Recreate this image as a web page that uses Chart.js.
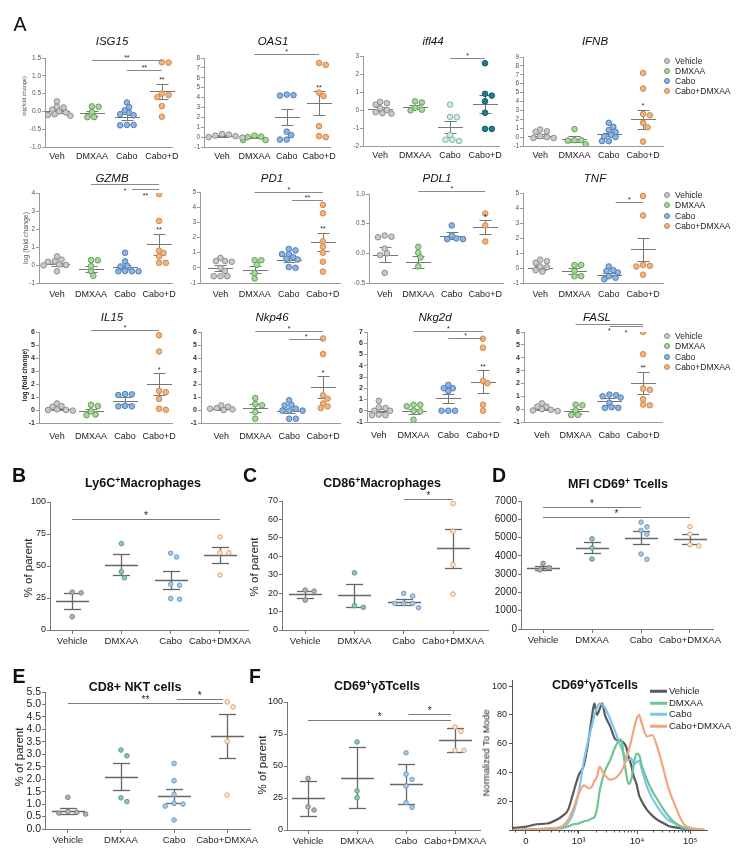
<!DOCTYPE html>
<html>
<head>
<meta charset="utf-8">
<script src="https://cdn.jsdelivr.net/npm/chart.js@4.4.1/dist/chart.umd.min.js"></script>
<style>
  body { margin: 0; width: 744px; height: 862px; background: #fff; position: relative; overflow: hidden;
         font-family: "Liberation Sans", Arial, sans-serif; }
  canvas { position: absolute; }
  .t { position: absolute; white-space: nowrap; line-height: 1; color: #111; z-index: 2;
       transform: translate(-50%, -50%); }
  .l { transform: translate(0, -50%); }
  .sup { font-size: 0.7em; position: relative; top: -0.45em; }
  .dot { position: absolute; width: 4px; height: 4px; border-radius: 50%; border: 1px solid; transform: translate(-50%, -50%); z-index: 2; }
  .seg { position: absolute; width: 17px; height: 2px; transform: translate(0, -50%); z-index: 2; }
</style>
</head>
<body>
<script>
const FF = '"Liberation Sans", Arial, sans-serif';
Chart.defaults.font.family = FF;

const groupsShort = ['Veh', 'DMXAA', 'Cabo', 'Cabo+D'];
const groupsLong = ['Vehicle', 'DMXAA', 'Cabo', 'Cabo+DMXAA'];

// ---------- A: qPCR, log(fold change) ----------
const isg15Vals = [[0.28, 0.13, 0.11, 0.05, 0.0, -0.03, -0.08, -0.1, -0.12], [0.14, 0.13, -0.02, -0.16, -0.16],
                   [0.25, 0.12, 0.03, -0.04, -0.08, -0.11, -0.38, -0.38, -0.39], [1.38, 1.37, 0.5, 0.46, 0.4, 0.15, -0.15]];
const isg15Mean = [0.0, -0.05, -0.15, 0.57];
const isg15Err = [0.05, 0.07, 0.08, 0.21];
const isg15Sig = [[2, 4, 1.45, '**'], [3, 4, 1.17, '**']];
const isg15Top = ['', '', '', '**'];

const oas1Vals = [[0.3, 0.25, 0.15, 0.1, 0.0, -0.05], [0.15, 0.05, 0.0, -0.3, -0.3],
                  [4.3, 4.2, 4.25, 0.55, 0.2, -0.25, -0.25], [7.5, 7.3, 4.5, 4.15, 1.1, 0.1, 0.0]];
const oas1Mean = [0.1, -0.05, 2.05, 3.45];
const oas1Err = [0.08, 0.08, 0.8, 1.2];
const oas1Sig = [[2, 4, 8.4, '*']];
const oas1Top = ['', '', '', '**'];

const ifl44Vals = [[0.45, 0.38, 0.3, 0.1, 0.0, -0.12, -0.18, -0.2], [0.48, 0.42, 0.12, 0.02, -0.02],
                   [0.3, -0.4, -0.38, -1.4, -1.65, -1.72, -1.65], [2.6, 0.9, 0.8, 0.48, -0.15, -1.05, -1.05]];
const ifl44Mean = [0.05, 0.18, -0.95, 0.32];
const ifl44Err = [0.1, 0.1, 0.33, 0.5];
const ifl44Sig = [[3, 4, 2.9, '*']];
const ifl44Top = ['', '', '', ''];

const ifnbVals = [[0.85, 0.65, 0.6, 0.1, 0.0, -0.1, -0.1], [0.9, -0.35, -0.35, -0.4, -0.8],
                  [1.6, 1.15, 0.8, 0.6, 0.25, 0.1, 0.0, -0.45, -0.45], [7.2, 5.45, 2.6, 2.45, 1.6, 1.1, -0.5]];
const ifnbMean = [0.1, -0.2, 0.3, 2.0];
const ifnbErr = [0.25, 0.3, 0.2, 1.1];
const ifnbSig = [];
const ifnbTop = ['', '', '', '*'];

const gzmbVals = [[0.48, 0.3, 0.2, 0.18, 0.03, 0.0, -0.02, -0.35], [0.27, 0.26, -0.07, -0.35, -0.6],
                  [0.68, 0.2, -0.05, -0.08, -0.33, -0.35, -0.35, -0.35], [3.94, 2.45, 0.8, 0.67, 0.48, 0.12, 0.12]];
const gzmbMean = [0.03, -0.22, -0.12, 1.15];
const gzmbErr = [0.1, 0.15, 0.12, 0.6];
const gzmbSig = [[2, 4, 4.5, '*', true], [3.2, 4, 4.22, '**', true]];
const gzmbTop = ['', '', '', '**'];

const pd1Vals = [[0.65, 0.45, 0.4, 0.45, 0.0, -0.2, -0.55, -0.55, -0.55], [0.5, 0.5, 0.2, -0.35, -0.7],
                 [1.25, 1.15, 0.9, 0.9, 0.7, 0.6, 0.55, 0.05, 0.0], [4.15, 3.6, 1.75, 1.4, 1.0, 0.4, -0.25]];
const pd1Mean = [0.0, -0.12, 0.52, 1.7];
const pd1Err = [0.18, 0.25, 0.15, 0.62];
const pd1Sig = [[2, 4, 5.0, '*'], [3.1, 4, 4.45, '**']];
const pd1Top = ['', '', '', '**'];

const pdl1Vals = [[0.3, 0.28, 0.27, 0.08, 0.0, -0.03, -0.33], [0.11, 0.01, -0.07, -0.22],
                  [0.47, 0.3, 0.25, 0.24, 0.24], [0.67, 0.47, 0.2]];
const pdl1Mean = [-0.02, -0.15, 0.3, 0.44];
const pdl1Err = [0.12, 0.1, 0.06, 0.12];
const pdl1Sig = [[2, 4, 1.05, '*']];
const pdl1Top = ['', '', '', '*'];

const tnfVals = [[0.55, 0.45, 0.35, 0.1, 0.05, -0.15, -0.25], [0.2, 0.2, -0.2, -0.55, -0.55],
                 [0.1, -0.2, -0.3, -0.15, -0.55, -0.65, -0.75], [4.8, 3.5, 0.2, 0.1, 0.15, -0.45]];
const tnfMean = [0.0, -0.2, -0.45, 1.25];
const tnfErr = [0.12, 0.18, 0.1, 0.75];
const tnfSig = [[3.2, 4, 4.4, '*']];
const tnfTop = ['', '', '', ''];

const il15Vals = [[0.5, 0.3, 0.25, 0.05, 0.0, -0.05, 0.0], [0.4, 0.3, -0.1, -0.35, -0.4],
                  [1.2, 1.15, 1.22, 0.28, 0.28, 0.32], [5.75, 4.5, 1.47, 1.37, 0.85, 0.02, 0.1]];
const il15Mean = [0.05, -0.1, 0.72, 2.0];
const il15Err = [0.08, 0.15, 0.28, 0.82];
const il15Sig = [[2, 4, 6.13, '*']];
const il15Top = ['', '', '', '*'];

const nkp46Vals = [[0.35, 0.25, 0.15, 0.1, 0.05, 0.0], [0.92, 0.45, 0.36, -0.15, -0.67],
                   [0.75, 0.4, 0.35, 0.1, -0.05, -0.05, -0.05, -0.67, -0.67], [5.5, 4.3, 1.13, 0.87, 0.5, 0.15, 0.28]];
const nkp46Mean = [0.1, 0.13, -0.05, 1.75];
const nkp46Err = [0.08, 0.3, 0.15, 0.83];
const nkp46Sig = [[2, 4, 6.05, '*'], [3, 4, 5.5, '*']];
const nkp46Top = ['', '', '', '*'];

const nkg2dVals = [[0.88, 0.3, 0.25, 0.0, 0.0, -0.35, -0.4, -0.4], [0.53, 0.4, 0.53, 0.0, -0.05, -0.8],
                   [2.3, 2.0, 1.76, 2.0, 0.0, 0.0, 0.0], [6.4, 5.6, 2.65, 2.45, 0.53, 0.0]];
const nkg2dMean = [0.0, -0.05, 1.1, 2.6];
const nkg2dErr = [0.15, 0.25, 0.4, 0.98];
const nkg2dSig = [[2, 4, 7.08, '*'], [3, 4, 6.5, '*']];
const nkg2dTop = ['', '', '', '**'];

const faslVals = [[0.45, 0.2, 0.2, 0.0, -0.05, -0.1, -0.15], [0.35, 0.3, -0.1, -0.45, -0.45],
                  [1.13, 1.08, 1.0, 0.9, 0.5, 0.1, 0.1, 0.15], [6.0, 4.27, 1.6, 1.5, 0.78, 0.3, 0.36]];
const faslMean = [0.05, -0.15, 0.62, 2.05];
const faslErr = [0.1, 0.2, 0.26, 0.84];
const faslSig = [[2, 4, 6.6, '*', true], [3, 4, 6.45, '*', true]];
const faslTop = ['', '', '', '**'];

// ---------- B-F: flow cytometry ----------
const ly6cVals = [[29.6, 29, 10.4], [67.5, 45.5, 40.8], [60, 57, 35.8, 35, 24.6, 24], [72.7, 60.3, 60.3, 42.9]];
const ly6cMean = [22.9, 50.9, 39, 58.7];
const ly6cErr = [6.3, 8.2, 6.8, 6.2];
const ly6cSig = [[1, 4, 86.5, '*']];

const cd86Vals = [[21.7, 21.1, 16.2], [31, 13.2, 12.3], [19.9, 18.4, 14.4, 14.4, 14.4, 12.1], [68.6, 53.6, 35.6, 19.5]];
const cd86Mean = [19.4, 18.8, 15.2, 44.3];
const cd86Err = [1.8, 6.2, 1.5, 10.6];
const cd86Sig = [[3, 4, 70.9, '*']];

const mfiVals = [[3590, 3350, 3230], [4930, 4430, 3830], [5840, 5590, 5390, 5190, 4100, 3810], [5590, 5190, 4610, 4540]];
const mfiMean = [3360, 4440, 4990, 4930];
const mfiErr = [110, 310, 350, 255];
const mfiSig = [[1, 3, 6680, '*'], [1, 4, 6140, '*']];

const nktVals = [[1.27, 0.7, 0.67, 0.64, 0.6], [3.17, 2.94, 1.25, 1.1], [2.63, 1.94, 1.39, 1.03, 1.0, 0.92, 0.36], [5.1, 4.9, 3.52, 1.36]];
const nktMean = [0.73, 2.1, 1.32, 3.72];
const nktErr = [0.13, 0.54, 0.28, 0.88];
const nktSig = [[1, 3.92, 5.07, '**'], [3.05, 3.92, 5.22, '*']];

const gdVals = [[40.3, 18.2, 15.6], [68.8, 30.6, 25.2], [60.3, 43.6, 39.5, 34.3, 21.3, 17.7], [80.5, 77.1, 62.3, 62.3]];
const gdMean = [24.7, 41, 36, 70.6];
const gdErr = [13.6, 23.8, 15.7, 9.3];
const gdSig = [[1, 3.92, 86.2, '*'], [3.05, 3.92, 90.9, '*']];

// histogram, x in display decades (0 -> 0, 1 -> 10^3, 2.11 -> 10^4, 3.12 -> 10^5)
const histX = [-0.25, 0, 0.2, 0.4, 0.6, 0.7, 0.8, 0.9, 1.0, 1.1, 1.2, 1.25, 1.3, 1.35, 1.4, 1.45, 1.5, 1.6, 1.7, 1.8,
               1.9, 1.95, 2.0, 2.05, 2.1, 2.15, 2.2, 2.3, 2.4, 2.5, 2.6, 2.7, 2.8, 3.0, 3.2, 3.4];
const histVehicle = [1.5, 2.3, 4, 4.5, 7.5, 10, 14, 26, 38, 45, 65, 78, 88, 80, 84, 88, 80, 72, 63, 62,
                     58, 51, 45, 37, 32, 24, 20, 14, 10, 7, 5, 3, 2, 1, 0.3, 0];
const histDmxaa = [0, 0.3, 0.5, 0.8, 1, 1.5, 2.5, 4, 4.5, 6, 7, 8, 9, 15, 27, 35, 41, 48.5, 58, 63,
                   40, 32, 35, 46, 53, 52, 45, 35, 27, 21, 15, 10, 6, 1.5, 0.5, 0];
const histCabo = [0, 0.3, 0.5, 1, 1.5, 2.5, 5, 12, 26, 48, 65, 72, 80, 85, 88, 87, 85, 77, 68, 58,
                  50, 48.5, 50, 46, 47, 48, 42, 30, 22, 16, 11, 7, 5, 1.5, 0.5, 0];
const histCaboD = [0, 0.3, 0.5, 1, 1.5, 3, 7, 15, 25, 31, 29, 30, 34, 37, 44, 41, 38, 35, 36, 40,
                   48, 55, 62, 70, 77, 80, 74, 65, 66, 57, 44, 30, 20, 4, 1, 0];
const histTicks = [0, 1, 2.11, 3.12];
const histTickLabels = ['0', '10\u00B3', '10\u2074', '10\u2075'];
const histYTicks = [0, 20, 40, 60, 80, 100];

// ---------- styles ----------
const PAL_A = [['#cacaca', '#8d8d8d'], ['#a9d69c', '#62a057'], ['#90b4dd', '#4d7fb9'], ['#f4b27d', '#c98a50']];
const PAL_IFL = [PAL_A[0], PAL_A[1], ['#d2eae2', '#79b5a3'], ['#1f7e8d', '#135d69']];
const PAL_B = [['#b3b3b3', '#838383'], ['#8fcaa7', '#5b9b78'], ['#abc9e6', '#6d9cc7'], ['#fde8d4', '#d9a272']];

const styleA = { labels: groupsShort, pal: PAL_A, r: 2.8, gap: -0.6, yw: 22, tickFont: { size: 6.5 }, tickColor: '#555',
  xFont: { size: 9 }, xColor: '#222', axisColor: '#9a9a9a', xTicks: false, mw: 12.5, cw: 6,
  lineColor: '#777', lineW: 1, starSize: 7, sigColor: '#8a8a8a', xPad: 4 };
const styleA2 = Object.assign({}, styleA, { xPad: 6.5 });
const styleA3 = Object.assign({}, styleA, { tickFont: { size: 7, weight: 'bold' }, tickColor: '#333', xPad: 8 });
const styleB = { labels: groupsLong, pal: PAL_B, r: 2.3, gap: 2, yw: 30, tickFont: { size: 9 }, tickColor: '#222',
  xFont: { size: 9.5 }, xColor: '#222', axisColor: '#777', xTicks: true, mw: 16.5, cw: 8.5,
  lineColor: '#666', lineW: 1.3, starSize: 10, sigColor: '#7a7a7a', xPad: 2 };

// ---------- helpers ----------
function swarm(vals, g, kx, ky, r, gap) {
  const d = 2 * r + gap;
  const placed = [];
  const out = new Array(vals.length);
  const order = vals.map((v, i) => i).sort((a, b) => vals[b] - vals[a]);
  order.forEach(i => {
    const py = vals[i] * ky;
    let best = 0;
    for (let k = 0; k < 60; k++) {
      const off = k === 0 ? 0 : (k % 2 ? 1 : -1) * Math.ceil(k / 2) * d * 0.45;
      if (placed.every(p => Math.hypot(p.x - off, p.y - py) >= d)) { best = off; break; }
    }
    placed.push({ x: best, y: py });
    out[i] = { x: g + best / kx, y: vals[i] };
  });
  return out;
}

function seg(ctx, x1, y1, x2, y2) {
  ctx.beginPath(); ctx.moveTo(x1, y1); ctx.lineTo(x2, y2); ctx.stroke();
}

function txt(html, x, y, css, cls) {
  const d = document.createElement('div');
  d.className = 't' + (cls ? ' ' + cls : '');
  d.innerHTML = html;
  d.style.left = x + 'px';
  d.style.top = y + 'px';
  if (css) d.style.cssText += css;
  document.body.appendChild(d);
  return d;
}

function vtxt(html, x, y, css) {
  const d = txt(html, x, y, css);
  d.style.transform = 'translate(-50%, -50%) rotate(-90deg)';
}

function makeCanvas(box, yw, pt, pr, xh) {
  const cv = document.createElement('canvas');
  cv.width = box[2] - box[0] + yw + pr;
  cv.height = box[3] - box[1] + pt + xh;
  cv.style.left = (box[0] - yw) + 'px';
  cv.style.top = (box[1] - pt) + 'px';
  document.body.appendChild(cv);
  return cv;
}

function dotPanel(base, p) {
  p = Object.assign({}, base, p);
  const PT = 34, PR = 32, XH = 22;
  const cv = makeCanvas(p.box, p.yw, PT, PR, XH);
  const kx = (p.box[2] - p.box[0]) / (p.x[1] - p.x[0]);
  const ky = (p.box[3] - p.box[1]) / (p.y[1] - p.y[0]);
  const datasets = p.vals.map((v, g) => ({
    data: swarm(v, g + 1, kx, ky, p.r, p.gap),
    backgroundColor: p.pal[g][0], borderColor: p.pal[g][1], borderWidth: 1,
    pointRadius: p.r, pointHoverRadius: p.r
  }));
  const deco = {
    id: 'deco',
    beforeDatasetsDraw(chart) {
      const { ctx, scales: { x, y } } = chart;
      ctx.save();
      ctx.strokeStyle = p.lineColor; ctx.lineWidth = p.lineW;
      p.mean.forEach((m, i) => {
        const cx = Math.round(x.getPixelForValue(i + 1)) + 0.5;
        const ym = Math.round(y.getPixelForValue(m)) + 0.5;
        const yt = Math.round(y.getPixelForValue(m + p.err[i])) + 0.5;
        const yb = Math.round(y.getPixelForValue(m - p.err[i])) + 0.5;
        seg(ctx, cx - p.mw, ym, cx + p.mw, ym);
        seg(ctx, cx, yt, cx, yb);
        seg(ctx, cx - p.cw, yt, cx + p.cw, yt);
        seg(ctx, cx - p.cw, yb, cx + p.cw, yb);
      });
      ctx.restore();
    },
    afterDatasetsDraw(chart) {
      const { ctx, scales: { x, y } } = chart;
      ctx.save();
      ctx.font = p.starSize + 'px ' + FF;
      ctx.textAlign = 'center';
      ctx.textBaseline = 'alphabetic';
      ctx.strokeStyle = p.sigColor; ctx.lineWidth = 1;
      p.sig.forEach(s => {
        const x1 = x.getPixelForValue(s[0]), x2 = x.getPixelForValue(s[1]);
        const yy = Math.round(y.getPixelForValue(s[2])) + 0.5;
        seg(ctx, x1, yy, x2, yy);
        ctx.fillStyle = '#222';
        ctx.fillText(s[3], (x1 + x2) / 2, s[4] ? yy + p.starSize + 1.5 : yy - 1);
      });
      (p.top || []).forEach((s, i) => {
        if (!s) return;
        const yt = y.getPixelForValue(p.mean[i] + p.err[i]);
        ctx.fillStyle = '#222';
        ctx.fillText(s, x.getPixelForValue(i + 1), yt - 1.5);
      });
      ctx.restore();
    }
  };
  new Chart(cv, {
    type: 'scatter',
    data: { datasets },
    options: {
      responsive: false, animation: false, devicePixelRatio: 1,
      layout: { padding: { top: PT, right: PR, left: 0, bottom: 0 } },
      plugins: { legend: { display: false }, tooltip: { enabled: false } },
      scales: {
        x: {
          type: 'linear', min: p.x[0], max: p.x[1],
          afterBuildTicks: s => { s.ticks = [1, 2, 3, 4].map(v => ({ value: v })); },
          afterFit: s => { s.height = XH; },
          ticks: { callback: v => p.labels[v - 1], font: p.xFont, color: p.xColor, padding: p.xPad,
                   maxRotation: 0, autoSkip: false },
          grid: { display: p.xTicks, drawTicks: p.xTicks, drawOnChartArea: false, tickLength: 4, color: p.axisColor },
          border: { color: p.axisColor, width: 1 }
        },
        y: {
          min: p.y[0], max: p.y[1],
          afterFit: s => { s.width = p.yw; },
          ticks: { stepSize: p.y[2], autoSkip: false, callback: v => p.dec ? Number(v).toFixed(p.dec) : String(v),
                   font: p.tickFont, color: p.tickColor, padding: 1 },
          grid: { drawOnChartArea: false, tickLength: 3, color: p.axisColor },
          border: { color: p.axisColor, width: 1 }
        }
      }
    },
    plugins: [deco]
  });
}

// ---------- panel A ----------
dotPanel(styleA, { box: [45, 58, 172, 147], x: [0.66, 4.29], y: [-1, 1.5, 0.5], dec: 1,
  vals: isg15Vals, mean: isg15Mean, err: isg15Err, sig: isg15Sig, top: isg15Top });
dotPanel(styleA, { box: [204, 58, 330, 147], x: [0.44, 4.34], y: [-1, 8, 1],
  vals: oas1Vals, mean: oas1Mean, err: oas1Err, sig: oas1Sig, top: oas1Top });
dotPanel(styleA, { box: [363, 56, 499, 146], x: [0.51, 4.4], y: [-2, 3, 1], pal: PAL_IFL,
  vals: ifl44Vals, mean: ifl44Mean, err: ifl44Err, sig: ifl44Sig, top: ifl44Top });
dotPanel(styleA, { box: [523, 57, 663, 146], x: [0.5, 4.58], y: [-1, 9, 1],
  vals: ifnbVals, mean: ifnbMean, err: ifnbErr, sig: ifnbSig, top: ifnbTop });

dotPanel(styleA2, { box: [39, 193, 172, 283], x: [0.47, 4.38], y: [-1, 4, 1],
  vals: gzmbVals, mean: gzmbMean, err: gzmbErr, sig: gzmbSig, top: gzmbTop });
dotPanel(styleA2, { box: [200, 192, 340, 283], x: [0.4, 4.5], y: [-1, 5, 1],
  vals: pd1Vals, mean: pd1Mean, err: pd1Err, sig: pd1Sig, top: pd1Top });
dotPanel(styleA2, { box: [369, 194, 503, 283], x: [0.53, 4.53], y: [-0.5, 1.0, 0.5], dec: 1,
  vals: pdl1Vals, mean: pdl1Mean, err: pdl1Err, sig: pdl1Sig, top: pdl1Top });
dotPanel(styleA2, { box: [523, 193, 663, 283], x: [0.5, 4.58], y: [-1, 5, 1],
  vals: tnfVals, mean: tnfMean, err: tnfErr, sig: tnfSig, top: tnfTop });

dotPanel(styleA3, { box: [39, 332, 172, 423], x: [0.47, 4.38], y: [-1, 6, 1],
  vals: il15Vals, mean: il15Mean, err: il15Err, sig: il15Sig, top: il15Top });
dotPanel(styleA3, { box: [201, 332, 340, 423], x: [0.4, 4.5], y: [-1, 6, 1],
  vals: nkp46Vals, mean: nkp46Mean, err: nkp46Err, sig: nkp46Sig, top: nkp46Top });
dotPanel(styleA3, { box: [367, 332, 500, 422], x: [0.66, 4.49], y: [-1, 7, 1],
  vals: nkg2dVals, mean: nkg2dMean, err: nkg2dErr, sig: nkg2dSig, top: nkg2dTop });
dotPanel(styleA3, { box: [524, 332, 662, 422], x: [0.47, 4.56], y: [-1, 6, 1],
  vals: faslVals, mean: faslMean, err: faslErr, sig: faslSig, top: faslTop });

// ---------- panels B-F ----------
dotPanel(styleB, { box: [50, 502, 248, 630], x: [0.55, 4.57], y: [0, 100, 25],
  vals: ly6cVals, mean: ly6cMean, err: ly6cErr, sig: ly6cSig });
dotPanel(styleB, { box: [282, 501, 488, 630], x: [0.53, 4.71], y: [0, 70, 10], yw: 26,
  vals: cd86Vals, mean: cd86Mean, err: cd86Err, sig: cd86Sig });
dotPanel(styleB, { box: [521, 501, 713, 629], x: [0.55, 4.47], y: [0, 7000, 1000], yw: 34,
  tickFont: { size: 10 }, vals: mfiVals, mean: mfiMean, err: mfiErr, sig: mfiSig });
dotPanel(styleB, { box: [45, 692, 250, 829], x: [0.57, 4.43], y: [0, 5.5, 0.5], dec: 1, yw: 32,
  tickFont: { size: 10.5 }, vals: nktVals, mean: nktMean, err: nktErr, sig: nktSig });
dotPanel(styleB, { box: [287, 702, 480, 830], x: [0.57, 4.51], y: [0, 100, 25],
  vals: gdVals, mean: gdMean, err: gdErr, sig: gdSig });

// ---------- histogram ----------
(function () {
  const box = [512, 680, 707, 830];
  const cv = makeCanvas(box, 28, 10, 20, 22);
  const minor = [-0.2, 0.25, 0.47, 0.62, 0.72, 0.8, 0.86, 0.91, 0.96];
  for (let k = 2; k <= 9; k++) {
    minor.push(1 + Math.log10(k) * 1.11);
    minor.push(2.11 + Math.log10(k) * 1.01);
  }
  const series = [[histCaboD, '#f5a482'], [histDmxaa, '#6fc48f'], [histCabo, '#7cc6ec'], [histVehicle, '#5a5a5a']];
  const minorTicks = {
    id: 'minorTicks',
    afterDraw(chart) {
      const { ctx, scales: { x }, chartArea: a } = chart;
      ctx.save();
      ctx.strokeStyle = '#555'; ctx.lineWidth = 1;
      minor.forEach(d => {
        const px = Math.round(x.getPixelForValue(d)) + 0.5;
        seg(ctx, px, a.bottom, px, a.bottom + 2.5);
      });
      ctx.restore();
    }
  };
  new Chart(cv, {
    type: 'line',
    data: {
      datasets: series.map(s => ({
        data: histX.map((x, i) => ({ x, y: s[0][i] })),
        borderColor: s[1], borderWidth: 2.2, pointRadius: 0, fill: false,
        tension: 0.4, cubicInterpolationMode: 'monotone'
      }))
    },
    options: {
      responsive: false, animation: false, devicePixelRatio: 1,
      layout: { padding: { top: 10, right: 20, left: 0, bottom: 0 } },
      plugins: { legend: { display: false }, tooltip: { enabled: false } },
      scales: {
        x: {
          type: 'linear', min: -0.266, max: 3.44,
          afterBuildTicks: s => { s.ticks = histTicks.map(v => ({ value: v })); },
          afterFit: s => { s.height = 22; },
          ticks: { callback: (v, i) => histTickLabels[i], font: { size: 9.5 }, color: '#222', padding: 2,
                   maxRotation: 0, autoSkip: false },
          grid: { drawOnChartArea: false, tickLength: 4, color: '#555' },
          border: { color: '#555', width: 1 }
        },
        y: {
          min: 0, max: 104.2,
          afterBuildTicks: s => { s.ticks = histYTicks.map(v => ({ value: v })); },
          afterFit: s => { s.width = 28; },
          ticks: { autoSkip: false, callback: v => v === 0 ? '' : String(v), font: { size: 9 }, color: '#222', padding: 2 },
          grid: { drawOnChartArea: false, tickLength: 3, color: '#555' },
          border: { color: '#555', width: 1 }
        }
      }
    },
    plugins: [minorTicks]
  });
})();

// ---------- text ----------
const ital = 'font-style:italic;font-size:11.5px;';
txt('A', 20, 25, 'font-size:19.5px;');
txt('ISG15', 112, 42, ital); txt('OAS1', 273, 42, ital); txt('ifl44', 433, 42, ital); txt('IFNB', 595, 42, ital);
txt('GZMB', 112, 179, ital); txt('PD1', 272, 179, ital); txt('PDL1', 437, 179, ital); txt('TNF', 595, 179, ital);
txt('IL15', 112, 318, ital); txt('Nkp46', 272, 318, ital); txt('Nkg2d', 435, 318, ital); txt('FASL', 597, 318, ital);
vtxt('log(fold change)', 25, 96, 'font-size:5.5px;color:#555;');
vtxt('log (fold change)', 25, 238, 'font-size:7px;color:#555;');
vtxt('log (fold change)', 25, 375, 'font-size:6.5px;font-weight:bold;color:#222;');

function legendA(y0, dy) {
  groupsLong.forEach((g, i) => {
    const d = document.createElement('div');
    d.className = 'dot';
    d.style.left = '667px'; d.style.top = (y0 + i * dy) + 'px';
    d.style.background = PAL_A[i][0]; d.style.borderColor = PAL_A[i][1];
    document.body.appendChild(d);
    txt(g, 675, y0 + i * dy, 'font-size:8.5px;color:#222;', 'l');
  });
}
legendA(61, 10); legendA(195, 10.3); legendA(336, 10.3);

const bold = 'font-weight:bold;font-size:12.5px;';
const sup = s => '<span class="sup">' + s + '</span>';
txt('B', 19, 476, 'font-weight:bold;font-size:19.5px;');
txt('C', 250, 476, 'font-weight:bold;font-size:19.5px;');
txt('D', 499, 476, 'font-weight:bold;font-size:19.5px;');
txt('E', 19, 677, 'font-weight:bold;font-size:19.5px;');
txt('F', 255, 677, 'font-weight:bold;font-size:19.5px;');
txt('Ly6C' + sup('+') + 'Macrophages', 143, 483, bold);
txt('CD86' + sup('+') + 'Macrophages', 382, 483, bold);
txt('MFI CD69' + sup('+') + ' Tcells', 618, 484, bold);
txt('CD8+ NKT cells', 135, 687, bold);
txt('CD69' + sup('+') + '&gamma;&delta;Tcells', 377, 686, bold);
txt('CD69' + sup('+') + '&gamma;&delta;Tcells', 595, 685, bold);
const ylab = 'font-size:11.5px;color:#222;';
vtxt('% of parent', 29, 568, ylab);
vtxt('% of parent', 255, 567, ylab);
vtxt('% of parent', 20, 757, ylab);
vtxt('% of parent', 263, 765, ylab);
vtxt('Normalized To Mode', 486, 753, 'font-size:9.5px;color:#222;');

const histCols = ['#5a5a5a', '#6fc48f', '#7cc6ec', '#f5a482'];
groupsLong.forEach((g, i) => {
  const y = [691, 703, 714, 726][i];
  const s = document.createElement('div');
  s.className = 'seg';
  s.style.left = '650px'; s.style.top = y + 'px'; s.style.background = histCols[i];
  s.style.height = '2.5px';
  document.body.appendChild(s);
  txt(g, 669, y, 'font-size:9.5px;color:#222;', 'l');
});
</script>
</body>
</html>
